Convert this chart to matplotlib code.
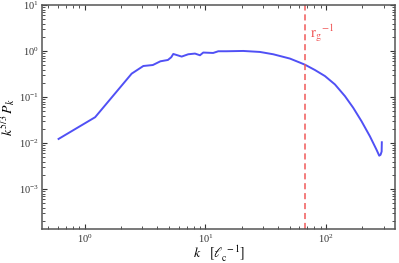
import matplotlib
matplotlib.use("Agg")
import matplotlib.pyplot as plt
import numpy as np
from matplotlib.ticker import LogLocator, NullFormatter

plt.rcParams['font.family'] = ['Liberation Serif', 'DejaVu Serif']
plt.rcParams['mathtext.fontset'] = 'stix'

# data -----------------------------------------------------------------
k = [0.607, 1.22, 2.45, 3.06, 3.67, 4.24, 4.89, 5.21, 5.42, 6.36, 7.21, 8.2,
     9.02, 9.6, 11.6, 12.8, 15.0, 20.6, 28.3, 36.5, 50.2, 60.8, 66.9, 80.9,
     97.9, 118.5, 143.5, 168.0, 197.0, 231.0, 262.0, 276.0, 283.0, 289.0, 290.0]
spec = [0.0124, 0.0368, 0.326, 0.478, 0.502, 0.605, 0.646, 0.74, 0.873, 0.766,
        0.86, 0.89, 0.818, 0.937, 0.918, 1.0, 1.0, 1.015, 0.966, 0.86, 0.693,
        0.566, 0.51, 0.391, 0.289, 0.190, 0.1056, 0.059, 0.030, 0.01416,
        0.00724, 0.00536, 0.0056, 0.0066, 0.0105]
k_rg = 67.0

fig = plt.figure(figsize=(3.99, 2.63), dpi=100)
ax = fig.add_axes([0.106, 0.129, 0.884, 0.851])

ax.plot(k, spec, color='#5050f5', lw=1.4)
ax.axvline(k_rg, color='#f05858', lw=1.1, ls=(0, (4, 2.5)))
ax.text(k_rg * 1.1, 2.5, r'$\mathrm{r_g}^{-1}$', color='#f05858',
        fontsize=10.5, va='center', ha='left')

ax.set_xscale('log')
ax.set_yscale('log')
ax.set_xlim(0.445, 373)
ax.set_ylim(1.36e-4, 10)

ax.xaxis.set_major_locator(LogLocator(base=10, numticks=10))
ax.xaxis.set_minor_locator(LogLocator(base=10, subs=np.arange(2, 10), numticks=10))
ax.yaxis.set_major_locator(LogLocator(base=10, numticks=10))
ax.yaxis.set_minor_locator(LogLocator(base=10, subs=np.arange(2, 10), numticks=10))
ax.xaxis.set_minor_formatter(NullFormatter())
ax.yaxis.set_minor_formatter(NullFormatter())

ax.tick_params(which='both', direction='in', top=True, right=True,
               labelsize=7.5, colors='#333333', pad=2.5)
ax.tick_params(which='major', length=3.5, width=0.8)
ax.tick_params(which='minor', length=2, width=0.6)
for s in ax.spines.values():
    s.set_color('#555555')
    s.set_linewidth(1.1)

ax.set_xlabel(r'$k\quad[\ell_{\mathrm{c}}^{\,-1}]$', fontsize=10, labelpad=-1)
ax.set_ylabel(r'$k^{5/3}\,P_k$', fontsize=10, labelpad=1)

fig.savefig('out.png', dpi=100)
